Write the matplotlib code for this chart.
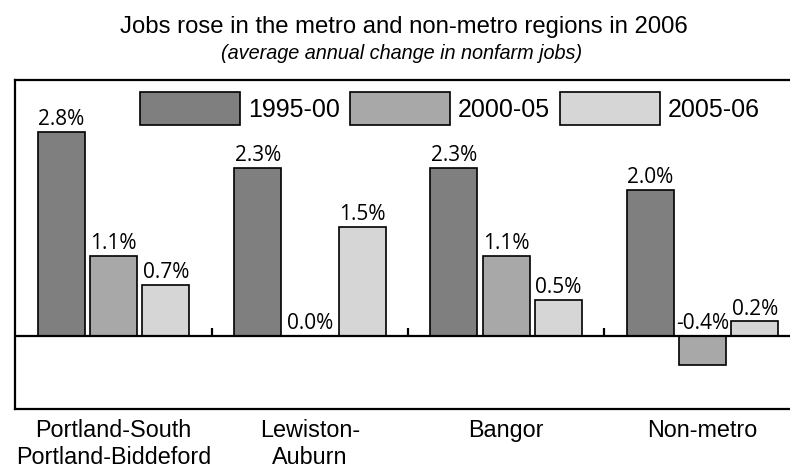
import matplotlib.pyplot as plt
import numpy as np

# average annual change in nonfarm jobs (%)
regions = ['Portland-South\nPortland-Biddeford', 'Lewiston-\nAuburn', 'Bangor', 'Non-metro']
periods = ['1995-00', '2000-05', '2005-06']
chg_1995_00 = [2.8, 2.3, 2.3, 2.0]
chg_2000_05 = [1.1, 0.0, 1.1, -0.4]
chg_2005_06 = [0.7, 1.5, 0.5, 0.2]
colors = ['#7f7f7f', '#a8a8a8', '#d6d6d6']

plt.rcParams['font.family'] = ['Liberation Sans', 'DejaVu Sans']

fig = plt.figure(figsize=(7.9, 4.69), dpi=100)
ax = fig.add_axes([15 / 790, 60 / 469, 775 / 790, 329 / 469])

x = np.arange(len(regions))
step = 0.266
for k, (vals, c, lab) in enumerate(zip([chg_1995_00, chg_2000_05, chg_2005_06], colors, periods)):
    xs = x + (k - 1) * step
    ax.bar(xs, vals, width=0.239, color=c, edgecolor='black', linewidth=1.2, label=lab)
    for xi, v in zip(xs, vals):
        ax.annotate(f'{v:.1f}%', (xi, max(v, 0)), xytext=(0, 5), textcoords='offset points',
                    ha='center', va='baseline', fontsize=15, family='Open Sans')

ax.axhline(0, color='black', lw=1.6, zorder=3)
# small ticks on the zero line between groups
ax.vlines(x[:-1] + 0.5, 0, 0.11, color='black', lw=1.6, zorder=3)

ax.set_xlim(-0.502, 3.446)
ax.set_ylim(-1.0, 3.51)
ax.set_xticks([])
ax.set_yticks([])
ax.spines['right'].set_visible(False)
for s in ['left', 'top', 'bottom']:
    ax.spines[s].set_linewidth(1.6)

for xi, lab in zip(x, regions):
    ax.annotate(lab, (xi, 0), xycoords=('data', 'axes fraction'), xytext=(0, -7),
                textcoords='offset points', ha='center', va='top', fontsize=16.8,
                linespacing=1.25)

ax.legend(loc='upper left', bbox_to_anchor=(140 / 790, 1 - 92 / 469), bbox_transform=fig.transFigure,
          ncol=3, frameon=False, fontsize=18, handlelength=4, handleheight=1.65,
          handletextpad=0.32, columnspacing=0.4, borderpad=0, borderaxespad=0)

fig.text(404 / 790, 1 - 33 / 469, 'Jobs rose in the metro and non-metro regions in 2006',
         ha='center', va='baseline', fontsize=17.2)
fig.text(402 / 790, 1 - 59 / 469, '(average annual change in nonfarm jobs)',
         ha='center', va='baseline', fontsize=14.3, style='italic')

plt.savefig('out.png', dpi=100)
